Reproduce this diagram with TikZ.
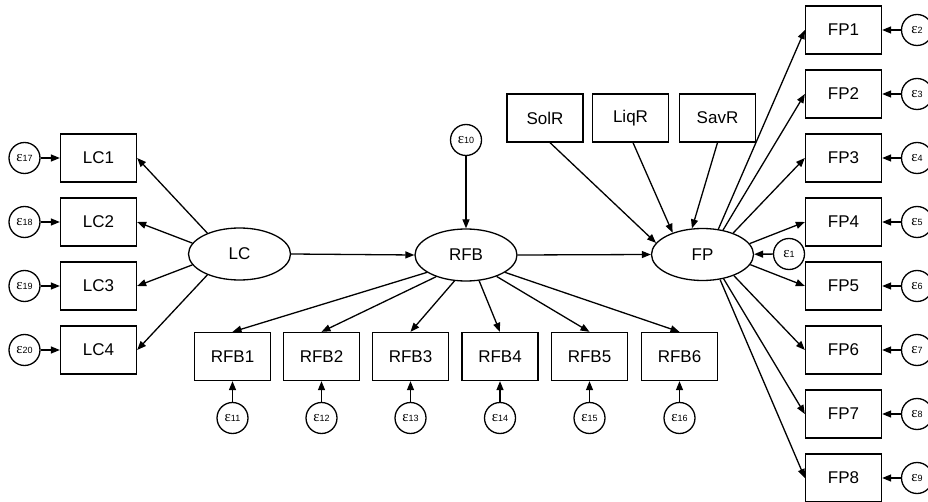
\documentclass[tikz,border=0pt]{standalone}
\usepackage{fontspec}
\setmainfont{Liberation Sans}
\newfontfamily\epsfont{Liberation Serif}
\usetikzlibrary{arrows.meta,shapes.geometric}

% error-term label: epsilon with a small index
\newcommand\errlab[1]{{\epsfont\fontsize{15}{15}\selectfont ε}{\fontsize{9}{9}\selectfont #1}}

\begin{document}
\begin{tikzpicture}[x=1pt,y=-1pt,
  obs/.style={draw, line width=1.3pt, minimum width=76pt, minimum height=48pt,
              inner sep=0pt, font=\fontsize{17}{17}\selectfont},
  lat/.style={draw, ellipse, line width=1.3pt, minimum width=102pt, minimum height=52pt,
              inner sep=0pt, font=\fontsize{17}{17}\selectfont},
  err/.style={draw, circle, line width=1.3pt, minimum size=31pt, inner sep=0pt},
  arr/.style={-{Triangle[length=9pt,width=7pt]}, line width=1.3pt}
]
\useasboundingbox (0,0) rectangle (928,502);

% ---- LC block ----
\node[lat] (LC) at (239.5,254) {LC};
\foreach \i/\y in {1/158,2/222,3/286,4/350}{
  \node[obs] (LC\i) at (98.5,\y) {LC\i};
}
\node[err] (e17) at (24.5,158) {\errlab{17}};
\node[err] (e18) at (24.5,222) {\errlab{18}};
\node[err] (e19) at (24.5,286) {\errlab{19}};
\node[err] (e20) at (24.5,350) {\errlab{20}};
\foreach \i/\e in {1/17,2/18,3/19,4/20}{
  \draw[arr] (e\e) -- (LC\i);
}
\draw[arr] (LC.147) -- (LC1.east);
\draw[arr] (LC.167) -- (LC2.east);
\draw[arr] (LC.193) -- (LC3.east);
\draw[arr] (LC.213) -- (LC4.east);

% ---- RFB block ----
\node[lat] (RFB) at (466,255) {RFB};
\node[err] (e10) at (466,140) {\errlab{10}};
\draw[arr] (e10) -- (RFB);
\draw[arr] (LC.east) -- (RFB.west);
\foreach \i/\x/\a in {1/232.5/204,2/321.5/216,3/410.5/246.5,4/500/297,5/589.5/325,6/679.5/336.6}{
  \node[obs] (RFB\i) at (\x,356.5) {RFB\i};
  \pgfmathtruncatemacro\ee{10+\i}
  \node[err] (e\ee) at (\x,418) {\errlab{\ee}};
  \draw[arr] (e\ee) -- (RFB\i);
  \draw[arr] (RFB.\a) -- (RFB\i.north);
}

% ---- FP block ----
\node[lat] (FP) at (702.5,254.5) {FP};
\draw[arr] (RFB.east) -- (FP.west);
\node[obs] (SolR) at (545,118) {SolR};
\node[obs] (LiqR) at (630.5,118) {LiqR};
\node[obs] (SavR) at (717.5,118) {SavR};
\draw[arr] ([xshift=5pt]SolR.south) -- (FP.166);
\draw[arr] ([xshift=2.5pt]LiqR.south) -- (FP.144);
\draw[arr] (SavR.south) -- (FP.112);
\node[err] (e1) at (789,254) {\errlab{1}};
\draw[arr] (e1) -- (FP);
\foreach \i/\a in {1/58.7,2/50,3/35,4/13.6,5/-12.5,6/-34,7/-49,8/-55}{
  \pgfmathsetmacro\yy{30+64*(\i-1)}
  \node[obs] (FP\i) at (843.5,\yy) {FP\i};
  \pgfmathtruncatemacro\ee{1+\i}
  \node[err] (e\ee) at (917,\yy) {\errlab{\ee}};
  \draw[arr] (e\ee) -- (FP\i);
  \draw[arr] (FP.\a) -- (FP\i.west);
}
\end{tikzpicture}
\end{document}
